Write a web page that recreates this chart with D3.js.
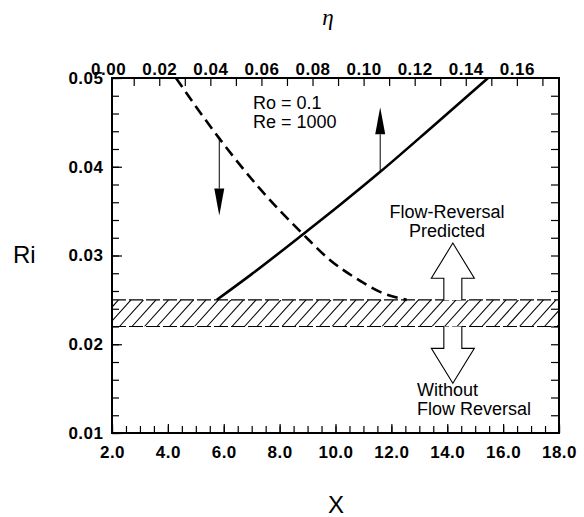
<!DOCTYPE html>
<html>
<head>
<meta charset="UTF-8">
<title>Ri vs X</title>
<script src="https://d3js.org/d3.v7.min.js"></script>
<style>
  body { margin: 0; background: #fff; }
  text { font-family: "Liberation Sans", Arial, sans-serif; fill: #000; }
</style>
</head>
<body>
<svg id="chart"></svg>
<script>
// values
const xTicks = [2, 4, 6, 8, 10, 12, 14, 16, 18];
const riTicks = [0.01, 0.02, 0.03, 0.04, 0.05];
const etaTicks = [0.00, 0.02, 0.04, 0.06, 0.08, 0.10, 0.12, 0.14, 0.16];

// solid curve
const solidX  = [5.75, 7.0, 8.84, 10.2, 11.59, 13.5, 15.46];
const solidRi = [0.025, 0.0279, 0.0324, 0.0358, 0.0394, 0.0446, 0.050];
// dashed curve
const dashX  = [4.29, 5.0, 5.84, 7.3, 8.84, 9.8, 10.8, 11.59, 12.55];
const dashRi = [0.050, 0.0468, 0.0432, 0.0375, 0.0324, 0.0295, 0.0273, 0.0259, 0.025];

// flow-reversal threshold band
const bandRi = [0.022, 0.025];

const W = 584, H = 517;
const svg = d3.select("#chart").attr("width", W).attr("height", H);

const x = d3.scaleLinear().domain([2, 18]).range([112, 559]);
const y = d3.scaleLinear().domain([0.01, 0.05]).range([433, 78]);
const eta = d3.scaleLinear().domain([0.0015, 0.1765]).range([112, 559]);

const L = 112, R = 559, T = 78, B = 433;

//---------axes-----------
const range = (a, b, s) => d3.range(Math.round((b - a) / s) + 1).map(i => +(a + i * s).toFixed(4));

svg.append("g").attr("transform", `translate(0,${B})`)
  .call(d3.axisBottom(x).tickValues(range(2, 18, 0.5)).tickSize(-7).tickFormat(""));
svg.append("g").attr("transform", `translate(0,${B})`)
  .call(d3.axisBottom(x).tickValues(xTicks).tickSize(-9).tickPadding(13).tickFormat(d3.format(".1f")));

svg.append("g").attr("transform", `translate(${L},0)`)
  .call(d3.axisLeft(y).tickValues(range(0.01, 0.05, 0.002)).tickSize(-7).tickFormat(""));
svg.append("g").attr("transform", `translate(${L},0)`)
  .call(d3.axisLeft(y).tickValues(riTicks).tickSize(-10).tickPadding(8.5).tickFormat(d3.format(".2f")));

svg.append("g").attr("transform", `translate(${R},0)`)
  .call(d3.axisRight(y).tickValues(range(0.012, 0.048, 0.002)).tickSize(-8).tickFormat(""));

svg.append("g").attr("transform", `translate(0,${T})`)
  .call(d3.axisTop(eta).tickValues(range(0.01, 0.17, 0.01)).tickSize(-8).tickFormat(""));
svg.append("g").attr("transform", `translate(0,${T})`)
  .call(d3.axisTop(eta).tickValues(etaTicks).tickSize(0).tickPadding(3).tickFormat(d3.format(".2f")));

svg.selectAll(".domain").remove();
svg.selectAll(".tick line").attr("stroke", "#000").attr("stroke-width", 1.2);
svg.selectAll(".tick text")
  .attr("fill", "#000")
  .style("font-family", "'Liberation Sans', Arial, sans-serif")
  .style("font-size", "17px")
  .style("letter-spacing", "0.5px")
  .style("font-weight", "bold");

// frame
svg.append("rect")
  .attr("x", L).attr("y", T).attr("width", R - L).attr("height", B - T)
  .attr("fill", "none").attr("stroke", "#000").attr("stroke-width", 2);

// axis titles
svg.append("text").attr("x", 13).attr("y", 263).style("font-size", "24px").text("Ri");
svg.append("text").attr("x", 336).attr("y", 513).attr("text-anchor", "middle")
  .style("font-size", "24px").text("X");
svg.append("text").attr("x", 328).attr("y", 25).attr("text-anchor", "middle")
  .style("font-family", "'Liberation Serif', 'DejaVu Serif', serif")
  .style("font-style", "italic").style("font-size", "23px").text("η");

//---------hatched band-----------
const bTop = y(bandRi[1]), bBot = y(bandRi[0]);
svg.append("clipPath").attr("id", "bandclip")
  .append("rect").attr("x", L).attr("y", bTop).attr("width", R - L).attr("height", bBot - bTop);
const hatch = svg.append("g").attr("clip-path", "url(#bandclip)");
const hx = d3.range(L - 30, R + 30, 12.5);
hatch.selectAll("line").data(hx).enter().append("line")
  .attr("x1", d => d).attr("y1", bBot)
  .attr("x2", d => d + 24).attr("y2", bTop)
  .attr("stroke", "#000").attr("stroke-width", 1.1);
svg.selectAll(".bandedge").data(bandRi).enter().append("line")
  .attr("class", "bandedge")
  .attr("x1", L).attr("x2", R)
  .attr("y1", d => y(d)).attr("y2", d => y(d))
  .attr("stroke", "#000").attr("stroke-width", 1.2)
  .attr("stroke-dasharray", "14,3");

//---------curves-----------
const line = d3.line().x(d => x(d[0])).y(d => y(d[1])).curve(d3.curveMonotoneX);
svg.append("path").datum(solidX.map((v, i) => [v, solidRi[i]]))
  .attr("d", line).attr("fill", "none").attr("stroke", "#000").attr("stroke-width", 2.6);
svg.append("path").datum(dashX.map((v, i) => [v, dashRi[i]]))
  .attr("d", line).attr("fill", "none").attr("stroke", "#000").attr("stroke-width", 2.6)
  .attr("stroke-dasharray", "11,6");

//---------thin arrows-----------
const thinArrow = function(xv, from, to) {
  const x0 = x(xv), y0 = y(from), y1 = y(to);
  const dir = y1 > y0 ? 1 : -1;
  const headLen = 27, headW = 5;
  svg.append("line").attr("x1", x0).attr("x2", x0).attr("y1", y0).attr("y2", y1 - dir * headLen)
    .attr("stroke", "#000").attr("stroke-width", 1);
  svg.append("path")
    .attr("d", `M${x0 - headW},${y1 - dir * headLen} L${x0 + headW},${y1 - dir * headLen} L${x0},${y1} Z`)
    .attr("fill", "#000");
};
thinArrow(5.84, 0.0432, 0.0345);
thinArrow(11.6, 0.0394, 0.0467);

//---------hollow arrows-----------
const hollowArrow = function(xv, start, base, tip) {
  const cx = x(xv), ys = y(start), yb = y(base), yt = y(tip);
  const sw = 9, hw = 21.5;
  const pts = [[cx - sw, ys], [cx - sw, yb], [cx - hw, yb], [cx, yt], [cx + hw, yb], [cx + sw, yb], [cx + sw, ys]];
  svg.append("path").attr("d", "M" + pts.map(p => p.join(",")).join("L"))
    .attr("fill", "#fff").attr("stroke", "#000").attr("stroke-width", 1.1);
};
hollowArrow(14.2, bandRi[1], 0.02743, 0.0314);
hollowArrow(14.2, bandRi[0], 0.01954, 0.0156);

//---------labels-----------
const ann = svg.append("g").style("font-size", "18px");
ann.append("text").attr("x", 253).attr("y", 109).text("Ro = 0.1");
ann.append("text").attr("x", 253).attr("y", 128).text("Re = 1000");
ann.append("text").attr("x", 447).attr("y", 218).attr("text-anchor", "middle").text("Flow-Reversal");
ann.append("text").attr("x", 447).attr("y", 237).attr("text-anchor", "middle").text("Predicted");
ann.append("text").attr("x", 417).attr("y", 396).text("Without");
ann.append("text").attr("x", 417).attr("y", 415).text("Flow Reversal");
</script>
</body>
</html>
